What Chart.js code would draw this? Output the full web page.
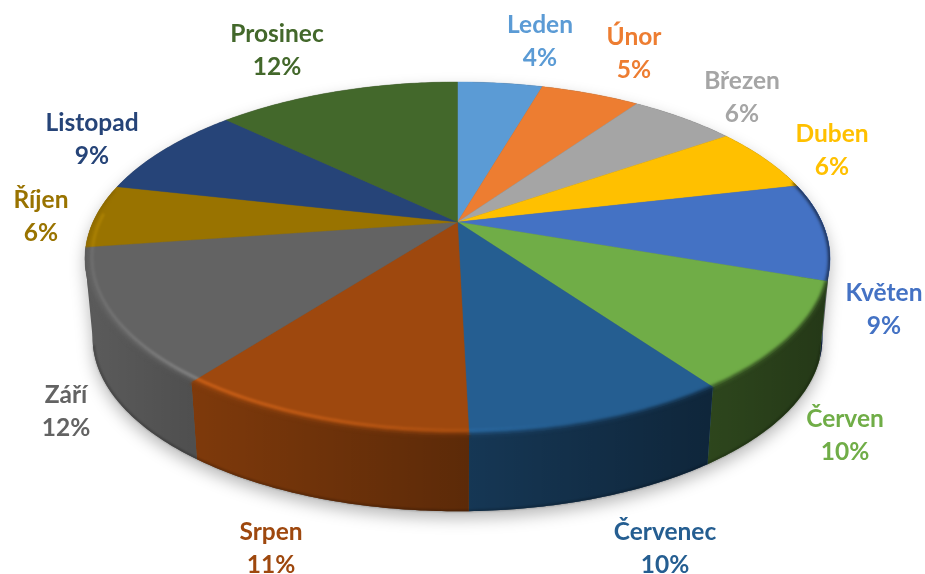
<!DOCTYPE html>
<html lang="cs">
<head>
<meta charset="utf-8">
<title>Koláčový graf</title>
<style>html,body{margin:0;padding:0;background:#fff}canvas{display:block}</style>
<script src="https://cdn.jsdelivr.net/npm/chart.js@4/dist/chart.umd.min.js"></script>
</head>
<body>
<canvas id="c" width="925" height="574"></canvas>
<script>
const categories = ["Leden","Únor","Březen","Duben","Květen","Červen","Červenec","Srpen","Září","Říjen","Listopad","Prosinec"];
const sliceValues = [4.5,5.25,5.65,6.0,8.9,9.8,9.5,10.85,12.25,5.8,8.6,12.9];
const percentLabels = ["4%","5%","6%","6%","9%","10%","10%","11%","12%","6%","9%","12%"];
const colors = ["#5B9BD5","#ED7D31","#A5A5A5","#FFC000","#4472C4","#70AD47","#255E91","#9E480E","#636363","#997300","#264478","#43682B"];

// text anchors (centre x, centre y of first line)
const labelAnchors = [[540,25],[634,37],[742,81],[832,134],[884,293],[845,419],[665,532],[271,532],[66,395],[41,200],[92,123],[277,34]];
const lineGap = 33;
const labelFont = "bold 24.5px Lato, Carlito, sans-serif";

// perspective of the pie disc
const top3d = {cx:457.5, cy:222, A:364.5, B:169, p:0.2068};
const bot3d = {cx:457.5, cy:302, A:357, B:166, p:0.2068};
function proj(P, a, r){
  const u = Math.cos(a)*r, v = Math.sin(a)*r, w = 1 - P.p*v;
  return [P.cx + P.A*u/w, P.cy + P.B*v/w];
}
function arcPts(P, a0, a1, r){
  const n = Math.max(2, Math.ceil(Math.abs(a1-a0)/0.012)), out = [];
  for(let i=0;i<=n;i++) out.push(proj(P, a0+(a1-a0)*i/n, r));
  return out;
}
function hexRgb(h){ return [1,3,5].map(i=>parseInt(h.substr(i,2),16)); }
function tracePts(ctx, pts, move){
  pts.forEach((p,i)=>{ if(i===0 && move) ctx.moveTo(p[0],p[1]); else ctx.lineTo(p[0],p[1]); });
}
function hGrad(ctx, stops){
  const g = ctx.createLinearGradient(85,0,832,0);
  stops.forEach(s=>g.addColorStop((s[0]-85)/(832-85), s[1]));
  return g;
}
const wallShade = [[85,.08],[190,.2],[470,.42],[713,.6],[832,.68]];
const SIDE = Math.asin(top3d.p);                    // angle of the widest point of the disc
const WALL_FROM = -0.3, WALL_LAST = Math.PI - 0.18; // walls shown only up to the left edge
const RIM_FROM = -0.25, RIM_TO = Math.PI + 0.2;

function silhouette(ctx){
  ctx.beginPath();
  tracePts(ctx, arcPts(top3d, 0, Math.PI*2, 1), true);
  ctx.closePath();
  tracePts(ctx, arcPts(bot3d, 0, Math.PI*2, 1), true);
  ctx.closePath();
  tracePts(ctx, [proj(top3d,SIDE,1),proj(bot3d,SIDE,1),proj(bot3d,Math.PI-SIDE,1),proj(top3d,Math.PI-SIDE,1)], true);
  ctx.closePath();
}

const pie3d = {
  id:"pie3d",
  beforeDatasetDraw(chart){
    const ctx = chart.ctx, arcs = chart.getDatasetMeta(0).data;
    const norm = a => { let x = a; while(x < -Math.PI/2) x += Math.PI*2; return x; };
    ctx.save();
    // soft ground shadow
    ctx.save();
    ctx.shadowColor = "rgba(0,0,0,0.28)";
    ctx.shadowBlur = 16;
    ctx.shadowOffsetY = 7;
    ctx.fillStyle = "#5a5a5a";
    silhouette(ctx);
    ctx.fill();
    ctx.restore();

    // side walls: slices on the near side only
    arcs.forEach((arc,i)=>{
      const s = norm(arc.startAngle), e = s + (arc.endAngle - arc.startAngle);
      if(s >= WALL_LAST || e <= WALL_FROM) return;
      const a0 = Math.max(s, WALL_FROM), a1 = e;
      const path = ()=>{
        ctx.beginPath();
        tracePts(ctx, arcPts(top3d,a0,a1,1), true);
        tracePts(ctx, arcPts(bot3d,a1,a0,1), false);
        ctx.closePath();
      };
      path();
      ctx.fillStyle = colors[i];
      ctx.fill();
      path();
      ctx.fillStyle = hGrad(ctx, wallShade.map(s=>[s[0],"rgba(0,0,0,"+s[1]+")"]));
      ctx.fill();
    });

    // soft bottom edge
    ctx.save();
    ctx.filter = "blur(0.8px)";
    ctx.strokeStyle = "rgba(0,0,0,0.35)";
    ctx.lineWidth = 1.5;
    ctx.beginPath();
    tracePts(ctx, arcPts(bot3d,0.25,Math.PI-0.25,0.998), true);
    ctx.stroke();
    ctx.restore();

    // top faces
    arcs.forEach((arc,i)=>{
      ctx.beginPath();
      ctx.moveTo(top3d.cx, top3d.cy);
      tracePts(ctx, arcPts(top3d,arc.startAngle,arc.endAngle,1), false);
      ctx.closePath();
      ctx.fillStyle = colors[i];
      ctx.fill();
      ctx.strokeStyle = colors[i];
      ctx.lineWidth = 0.4;
      ctx.stroke();
    });

    // everything blurred below stays inside the solid
    ctx.save();
    silhouette(ctx);
    ctx.clip();

    // rim: soft transition from face to wall
    arcs.forEach((arc,i)=>{
      const s = norm(arc.startAngle), e = s + (arc.endAngle - arc.startAngle);
      const a0 = Math.max(s, RIM_FROM), a1 = Math.min(e, RIM_TO);
      if(a1 <= a0) return;
      ctx.save();
      ctx.filter = "blur(1.6px)";
      ctx.lineWidth = 4;
      ctx.beginPath();
      tracePts(ctx, arcPts(top3d,a0,a1,1), true);
      const c = hexRgb(colors[i]);
      ctx.strokeStyle = hGrad(ctx, wallShade.map(st=>{
        const f = 1 - st[1]*0.85;
        return [st[0], "rgb("+c.map(v=>Math.round(v*f)).join(",")+")"];
      }));
      ctx.stroke();
      ctx.restore();
    });

    // bevel highlight, strongest on the lower left
    arcs.forEach((arc,i)=>{
      const s = norm(arc.startAngle), e = s + (arc.endAngle - arc.startAngle);
      const a0 = Math.max(s, 1.2), a1 = Math.min(e, Math.PI + 0.05);
      if(a1 <= a0) return;
      const c = hexRgb(colors[i]).map(v=>Math.min(255,v+26)).join(",");
      ctx.save();
      ctx.globalCompositeOperation = "lighter";
      ctx.filter = "blur(1.1px)";
      ctx.lineWidth = 3;
      ctx.beginPath();
      tracePts(ctx, arcPts(top3d,a0,a1,0.982), true);
      ctx.strokeStyle = hGrad(ctx, [[85,"rgba("+c+",0.08)"],[190,"rgba("+c+",0.23)"],[330,"rgba("+c+",0.17)"],[470,"rgba("+c+",0.06)"],[560,"rgba("+c+",0)"],[832,"rgba("+c+",0)"]]);
      ctx.stroke();
      ctx.restore();
    });
    ctx.restore();
    ctx.restore();
    return false;
  },
  afterDraw(chart){
    const ctx = chart.ctx;
    ctx.save();
    ctx.font = labelFont;
    ctx.textAlign = "center";
    ctx.textBaseline = "middle";
    categories.forEach((name,i)=>{
      const [x,y] = labelAnchors[i];
      ctx.fillStyle = colors[i];
      ctx.fillText(name, x, y);
      ctx.fillText(percentLabels[i], x, y+lineGap);
    });
    ctx.restore();
  }
};

new Chart(document.getElementById("c"), {
  type:"pie",
  data:{labels:categories, datasets:[{data:sliceValues, backgroundColor:colors, borderWidth:0}]},
  options:{
    responsive:false,
    animation:false,
    devicePixelRatio:1,
    events:[],
    plugins:{legend:{display:false}, tooltip:{enabled:false}}
  },
  plugins:[pie3d]
});
</script>
</body>
</html>
